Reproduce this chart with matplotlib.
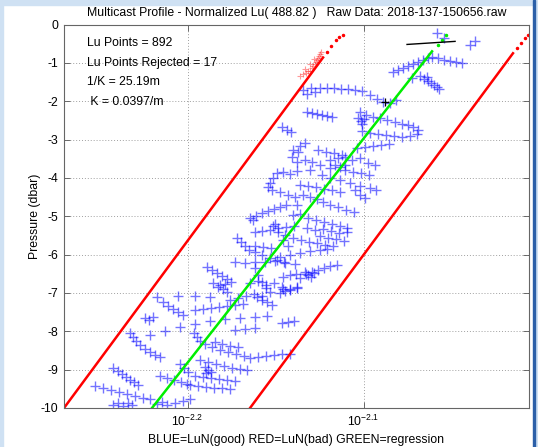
import numpy as np
import matplotlib.pyplot as plt
from matplotlib.ticker import FixedLocator, NullLocator
from matplotlib.patches import Rectangle

plt.rcParams['font.family'] = ['Liberation Sans', 'DejaVu Sans']
plt.rcParams['mathtext.fontset'] = 'custom'
plt.rcParams['mathtext.rm'] = 'Liberation Sans'
plt.rcParams['axes.unicode_minus'] = False
plt.rcParams['font.size'] = 8.8

# good LuN samples: log10(LuN) and pressure (dbar), one row per sweep
good_log_lu = [
    -2.0582, -2.0543, -2.0395, -2.0366,
    -2.0832, -2.0804, -2.0776, -2.0747, -2.0719, -2.0690, -2.0662, -2.0634, -2.0611,
    -2.0577, -2.0543, -2.0509, -2.0474, -2.0440,
    -2.0724, -2.0679, -2.0656, -2.0634, -2.0617, -2.0599, -2.0582, -2.0571, -2.0639,
    -2.1344, -2.1321, -2.1298, -2.1276, -2.1247, -2.1207, -2.1168, -2.1128, -2.1088, -2.1048, -2.1009,
    -2.1321, -2.1293, -2.1264, -2.1236, -2.1207, -2.1179,
    -2.1463, -2.1435, -2.1412,
    -2.0963, -2.0923, -2.0889, -2.0849, -2.0815,
    -2.1020, -2.0986, -2.0946, -2.0906, -2.0866, -2.0821, -2.0781, -2.0747, -2.0719, -2.0690,
    -2.1031, -2.1014, -2.0997, -2.1009,
    -2.1009, -2.0963, -2.0918, -2.0872, -2.0827, -2.0781, -2.0736, -2.0696,
    -2.1401, -2.1361, -2.1332, -2.1406, -2.1372,
    -2.1378, -2.1332, -2.1293, -2.1247,
    -2.1190, -2.1145, -2.1105, -2.1065, -2.1020, -2.0974, -2.0935,
    -2.1037, -2.0992, -2.0946, -2.0901, -2.0855,
    -2.1236, -2.1190, -2.1134, -2.1077, -2.1020, -2.0963, -2.0929,
    -2.1162, -2.1134, -2.1105, -2.1190,
    -2.1457, -2.1418, -2.1378, -2.1304,
    -2.1491, -2.1514, -2.1531, -2.1543, -2.1520, -2.1474, -2.1429, -2.1389,
    -2.1344, -2.1304, -2.1264, -2.1230, -2.1190, -2.1145, -2.1099, -2.1054,
    -2.1048, -2.1020, -2.0992,
    -2.1645, -2.1611, -2.1577, -2.1543, -2.1509, -2.1474, -2.1440, -2.1378,
    -2.1401, -2.1361, -2.1315, -2.1270, -2.1224, -2.1179, -2.1134, -2.1094,
    -2.1321, -2.1276, -2.1230, -2.1185, -2.1139, -2.1094,
    -2.1446, -2.1401, -2.1355, -2.1310, -2.1264, -2.1219, -2.1173,
    -2.1474, -2.1418, -2.1361, -2.1304, -2.1247, -2.1207,
    -2.1628, -2.1503,
    -2.1514, -2.1486, -2.1457, -2.1429,
    -2.1719, -2.1696, -2.1673, -2.1651, -2.1616, -2.1577, -2.1531, -2.1491, -2.1452,
    -2.1889, -2.1861, -2.1832, -2.1804, -2.1776, -2.1753,
    -2.1855, -2.1827, -2.1798, -2.1776, -2.1815, -2.1787,
    -2.1730, -2.1673, -2.1616, -2.1560, -2.1503, -2.1446, -2.1389,
    -2.1645, -2.1599, -2.1554, -2.1509, -2.1463, -2.1418, -2.1378,
    -2.1605, -2.1577, -2.1548, -2.1520, -2.1577,
    -2.1361, -2.1327, -2.1293, -2.1259, -2.1224, -2.1190, -2.1151,
    -2.1332, -2.1315, -2.1298, -2.1281,
    -2.1457, -2.1418, -2.1384,
    -2.1474, -2.1446, -2.1418, -2.1378, -2.1457,
    -2.1463, -2.1429, -2.1395,
    -2.2173, -2.2139, -2.2111, -2.2082, -2.2054, -2.2026,
    -2.2054, -2.1957, -2.1872,
    -2.2241, -2.2219, -2.2196,
    -2.2213, -2.2128, -2.2043, -2.1957, -2.1872, -2.1787, -2.1702, -2.1616, -2.1548,
    -2.1616, -2.1599, -2.1577, -2.1554, -2.1531,
    -2.2327, -2.2310, -2.2293, -2.2270, -2.2241, -2.2213, -2.2185, -2.2156,
    -2.1963, -2.1946, -2.1929, -2.1901, -2.1861, -2.1815, -2.1770, -2.1724, -2.1679,
    -2.1929, -2.1884, -2.1838, -2.1793, -2.1747, -2.1702, -2.1662,
    -2.1901, -2.1884, -2.1866, -2.1895,
    -2.2423, -2.2395, -2.2372, -2.2349, -2.2327, -2.2304, -2.2281,
    -2.2526, -2.2480, -2.2435, -2.2389, -2.2344, -2.2298, -2.2253, -2.2213,
    -2.2423, -2.2395, -2.2367, -2.2338, -2.2315,
    -2.2173, -2.2145, -2.2116, -2.2071, -2.2026, -2.1986,
    -2.2156, -2.2116, -2.2077, -2.2037, -2.2003,
    -2.2043, -2.2020, -2.1997,
    -2.1986, -2.1940, -2.1895, -2.1849, -2.1804, -2.1759,
    -2.1645, -2.1599, -2.1554, -2.1509, -2.1463, -2.1418,
    -2.1730, -2.1673, -2.1616,
    -2.1616, -2.1577, -2.1531, -2.1486, -2.1440, -2.1395,
    -2.1247, -2.1202, -2.1156, -2.1111,
    -2.1616, -2.1571, -2.1526,
    -2.1759, -2.1713, -2.1668, -2.1622,
    -2.1957, -2.1912, -2.1866, -2.1821, -2.1776, -2.1730, -2.1685,
    -2.1844, -2.1804, -2.1759, -2.1713,
    -2.1957, -2.1912, -2.1866, -2.1821, -2.1776, -2.1730,
    -2.1361, -2.1315, -2.1270, -2.1224, -2.1179, -2.1134,
    -2.1259, -2.1213, -2.1168, -2.1122,
    -2.1105, -2.1060, -2.1014, -2.0969,
]
good_depth = [
    -0.23, -0.36, -0.54, -0.44,
    -1.25, -1.19, -1.14, -1.09, -1.04, -0.99, -0.93, -0.88, -0.86,
    -0.88, -0.93, -0.96, -0.99, -1.01,
    -1.40, -1.35, -1.43, -1.48, -1.53, -1.59, -1.64, -1.69, -1.38,
    -1.72, -1.82, -1.66, -1.77, -1.66, -1.66, -1.66, -1.69, -1.69, -1.72, -1.74,
    -2.29, -2.31, -2.34, -2.37, -2.39, -2.42,
    -2.68, -2.76, -2.81,
    -1.85, -1.95, -2.03, -2.05, -1.98,
    -2.29, -2.37, -2.42, -2.45, -2.50, -2.55, -2.60, -2.63, -2.68, -2.76,
    -2.45, -2.52, -2.47, -2.60,
    -2.78, -2.84, -2.86, -2.89, -2.91, -2.94, -2.91, -2.86,
    -3.28, -3.17, -3.10, -3.46, -3.33,
    -3.59, -3.54, -3.59, -3.67,
    -3.54, -3.49, -3.46, -3.54, -3.49, -3.62, -3.67,
    -3.23, -3.20, -3.17, -3.15, -3.12,
    -3.93, -4.01, -4.06, -4.14, -4.22, -4.27, -4.32,
    -3.67, -3.72, -3.67, -3.75,
    -3.85, -3.90, -3.83, -3.80,
    -3.88, -4.01, -4.14, -4.24, -4.32, -4.37, -4.45, -4.50,
    -4.45, -4.50, -4.56, -4.63, -4.71, -4.76, -4.84, -4.89,
    -4.32, -4.45, -4.53,
    -5.05, -5.00, -4.92, -4.87, -4.81, -4.76, -4.71, -4.71,
    -4.97, -4.95, -5.05, -5.10, -5.15, -5.21, -5.26, -5.31,
    -5.31, -5.36, -5.34, -5.39, -5.44, -5.41,
    -5.49, -5.57, -5.62, -5.67, -5.70, -5.75, -5.78,
    -6.07, -6.01, -5.96, -5.91, -5.88, -5.86,
    -5.10, -5.21,
    -5.26, -5.41, -5.62, -5.78,
    -5.57, -5.67, -5.78, -5.88, -5.93, -6.01, -6.09, -6.14, -6.20,
    -6.33, -6.40, -6.48, -6.56, -6.64, -6.72,
    -6.74, -6.85, -6.90, -6.98, -6.79, -6.77,
    -6.20, -6.22, -6.20, -6.20, -6.17, -6.22, -6.25,
    -6.74, -6.69, -6.79, -6.74, -6.85, -6.92, -6.87,
    -7.11, -7.18, -7.24, -7.31, -7.08,
    -6.61, -6.51, -6.46, -6.40, -6.35, -6.30, -6.27,
    -6.46, -6.53, -6.59, -6.48,
    -6.59, -6.53, -6.51,
    -7.00, -6.95, -6.90, -6.85, -6.90,
    -7.78, -7.76, -7.73,
    -7.11, -7.24, -7.34, -7.42, -7.50, -7.58,
    -7.08, -7.08, -7.11,
    -7.65, -7.71, -7.63,
    -8.10, -7.99, -7.89, -7.81, -7.73, -7.68, -7.65, -7.63, -7.60,
    -6.35, -6.53, -6.72, -6.87, -6.98,
    -8.04, -8.15, -8.25, -8.36, -8.46, -8.54, -8.62, -8.67,
    -8.04, -8.15, -8.25, -8.33, -8.41, -8.49, -8.54, -8.59, -8.64,
    -8.75, -8.80, -8.85, -8.90, -8.96, -8.98, -9.01,
    -8.93, -9.01, -9.06, -9.09,
    -8.96, -9.04, -9.11, -9.19, -9.27, -9.32, -9.40,
    -9.42, -9.48, -9.53, -9.58, -9.63, -9.68, -9.74, -9.76,
    -9.92, -9.87, -9.94, -9.87, -9.92,
    -9.90, -9.84, -9.92, -9.87, -9.81, -9.76,
    -9.16, -9.22, -9.27, -9.32, -9.37,
    -8.85, -8.96, -9.06,
    -9.40, -9.42, -9.45, -9.48, -9.48, -9.50,
    -8.70, -8.67, -8.64, -8.62, -8.59, -8.59,
    -7.97, -7.94, -7.91,
    -5.41, -5.39, -5.36, -5.31, -5.29, -5.26,
    -5.52, -5.57, -5.60, -5.65,
    -5.78, -5.80, -5.83,
    -7.18, -7.13, -7.08, -7.03,
    -7.44, -7.42, -7.39, -7.37, -7.34, -7.31, -7.29,
    -8.28, -8.33, -8.38, -8.41,
    -9.16, -9.19, -9.22, -9.24, -9.27, -9.29,
    -4.19, -4.22, -4.24, -4.30, -4.32, -4.37,
    -3.28, -3.33, -3.36, -3.41,
    -3.80, -3.85, -3.88, -3.93,
]

# rejected samples (17)
bad_log_lu = [-2.1361, -2.1344, -2.1327, -2.1315, -2.1304, -2.1293, -2.1287, -2.1276, -2.1270,
              -2.1264, -2.1259, -2.1253, -2.1247, -2.1241, -2.1332, -2.1304, -2.1281]
bad_depth = [-1.35, -1.30, -1.27, -1.22, -1.20, -1.14, -1.09, -1.04, -0.99,
             -0.93, -0.88, -0.83, -0.78, -0.73, -1.17, -1.04, -0.91]

# regression line and rejection limits (end points), plus sparse points near the surface
reg_log_lu = [-2.2202, -2.0611]
reg_depth = [-10.0, -0.70]
reg_dots_log_lu = [-2.0577, -2.0553, -2.0529]
reg_dots_depth = [-0.54, -0.41, -0.28]

low_log_lu = [-2.2702, -2.1230]
low_depth = [-10.0, -0.86]
low_dots_log_lu = [-2.1209, -2.1183, -2.1157, -2.1137, -2.1116]
low_dots_depth = [-0.73, -0.57, -0.41, -0.33, -0.28]

high_log_lu = [-2.1645, -2.0151]
high_depth = [-10.0, -0.75]
high_dots_log_lu = [-2.0130, -2.0106, -2.0085, -2.0065]
high_dots_depth = [-0.62, -0.48, -0.36, -0.28]

surface_log_lu = [-2.0753, -2.0480]
surface_depth = [-0.52, -0.44]

mark_log_lu = [-2.0878]
mark_depth = [-2.03]


def lu(vals):
    return 10 ** np.array(vals)


fig = plt.figure(figsize=(5.38, 4.47), dpi=100)
fig.patch.set_facecolor('white')

# window frame strips
frame = '#cfe1f3'
fig.patches.append(Rectangle((0, 0), 3 / 538, 1, transform=fig.transFigure, color=frame, zorder=-1))
fig.patches.append(Rectangle((0, 1 - 5 / 447), 1, 5 / 447, transform=fig.transFigure, color=frame, zorder=-1))
fig.patches.append(Rectangle((534 / 538, 0), 4 / 538, 1, transform=fig.transFigure, color=frame, zorder=-1))
fig.patches.append(Rectangle((533 / 538, 0), 1.5 / 538, 1, transform=fig.transFigure, color='#2b5fa8', zorder=0))

ax = fig.add_axes([64 / 538, 1 - 408 / 447, 465 / 538, 383.5 / 447])
ax.set_xscale('log')

ax.plot(lu(good_log_lu), good_depth, '+', color='#0000ff', alpha=0.55, ms=6.5, mew=1.0)
ax.plot(lu(bad_log_lu), bad_depth, '+', color='#ff0000', alpha=0.4, ms=5, mew=0.8)

ax.plot(lu(low_log_lu), low_depth, '-', color='#ff0000', lw=1.8)
ax.plot(lu(low_dots_log_lu), low_dots_depth, '.', color='#ff0000', ms=3)
ax.plot(lu(high_log_lu), high_depth, '-', color='#ff0000', lw=1.8)
ax.plot(lu(high_dots_log_lu), high_dots_depth, '.', color='#ff0000', ms=3)
ax.plot(lu(reg_log_lu), reg_depth, '-', color='#00ee00', lw=1.8)
ax.plot(lu(reg_dots_log_lu), reg_dots_depth, '.', color='#00ee00', ms=3)
ax.plot(lu(surface_log_lu), surface_depth, '-', color='black', lw=1.0)
ax.plot(lu(mark_log_lu), mark_depth, '+', color='black', ms=6, mew=0.9)

ax.set_xlim(10 ** -2.2702, 10 ** -2.0060)
ax.set_ylim(-10, 0)

ax.xaxis.set_major_locator(FixedLocator([10 ** -2.2, 10 ** -2.1]))
ax.xaxis.set_minor_locator(NullLocator())
ax.set_xticklabels([r'$10^{-2.2}$', r'$10^{-2.1}$'])
ax.set_yticks(np.arange(-10, 1, 1))

ax.grid(True, which='major', linestyle=(0, (1, 2)), color='#a0a0a0', linewidth=0.7)
ax.tick_params(direction='in', top=True, right=True, length=4, width=0.6,
               color='#555555', labelsize=8.8, pad=4)
for s in ax.spines.values():
    s.set_color('#666666')
    s.set_linewidth(0.8)

ax.set_title('Multicast Profile - Normalized Lu( 488.82 )   Raw Data: 2018-137-150656.raw',
             fontsize=8.8, pad=6)
ax.set_ylabel('Pressure (dbar)', fontsize=8.8, labelpad=0)
ax.set_xlabel('BLUE=LuN(good) RED=LuN(bad) GREEN=regression', fontsize=8.8, labelpad=4)

info = ['Lu Points = 892', 'Lu Points Rejected = 17', '1/K = 25.19m', ' K = 0.0397/m']
for i, line in enumerate(info):
    ax.text(0.0495, 0.9505 - i * 0.0505, line, transform=ax.transAxes, va='center',
            ha='left', fontsize=8.8)

fig.savefig('out.png', dpi=100)
